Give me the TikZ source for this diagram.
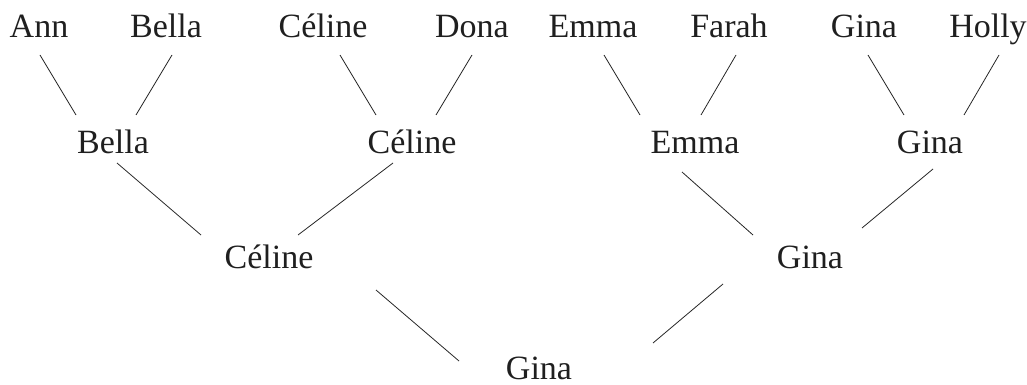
\documentclass[tikz,border=0pt]{standalone}
\usepackage{fontspec}
\setmainfont{Liberation Serif}
\begin{document}
\begin{tikzpicture}[x=1pt,y=-1pt,
  nm/.style={anchor=base,inner sep=0pt,font=\fontsize{34}{40}\selectfont,text=black!88},
  edge/.style={draw=black!85,line width=0.8pt}]
\useasboundingbox (0,0) rectangle (1027,385);
% top row
\node[nm] (t1) at (39,38) {Ann};
\node[nm] (t2) at (166,38) {Bella};
\node[nm] (t3) at (323,38) {Céline};
\node[nm] (t4) at (472,38) {Dona};
\node[nm] (t5) at (593,38) {Emma};
\node[nm] (t6) at (729,38) {Farah};
\node[nm] (t7) at (864,38) {Gina};
\node[nm] (t8) at (988,38) {Holly};
% second row
\node[nm] (m1) at (113,153) {Bella};
\node[nm] (m2) at (412,153) {Céline};
\node[nm] (m3) at (695,153) {Emma};
\node[nm] (m4) at (930,153) {Gina};
% third row
\node[nm] (l1) at (269,268) {Céline};
\node[nm] (l2) at (810,268) {Gina};
% final
\node[nm] (f) at (539,379) {Gina};
% connectors
\draw[edge] ([shift={(1,17)}]t1.base) -- ([shift={(-37,-38)}]m1.base);
\draw[edge] ([shift={(6,17)}]t2.base) -- ([shift={(23,-38)}]m1.base);
\draw[edge] ([shift={(17,17)}]t3.base) -- ([shift={(-36,-38)}]m2.base);
\draw[edge] ([shift={(0,17)}]t4.base) -- ([shift={(24,-38)}]m2.base);
\draw[edge] ([shift={(11,17)}]t5.base) -- ([shift={(-55,-38)}]m3.base);
\draw[edge] ([shift={(7,17)}]t6.base) -- ([shift={(6,-38)}]m3.base);
\draw[edge] ([shift={(4,17)}]t7.base) -- ([shift={(-26,-38)}]m4.base);
\draw[edge] ([shift={(11,17)}]t8.base) -- ([shift={(34,-38)}]m4.base);
\draw[edge] ([shift={(4,10)}]m1.base) -- ([shift={(-68,-33)}]l1.base);
\draw[edge] ([shift={(-19,10)}]m2.base) -- ([shift={(29,-33)}]l1.base);
\draw[edge] ([shift={(-13,19)}]m3.base) -- ([shift={(-57,-33)}]l2.base);
\draw[edge] ([shift={(3,16)}]m4.base) -- ([shift={(52,-40)}]l2.base);
\draw[edge] ([shift={(107,22)}]l1.base) -- ([shift={(-80,-18)}]f.base);
\draw[edge] ([shift={(-87,16)}]l2.base) -- ([shift={(114,-36)}]f.base);
\end{tikzpicture}
\end{document}
